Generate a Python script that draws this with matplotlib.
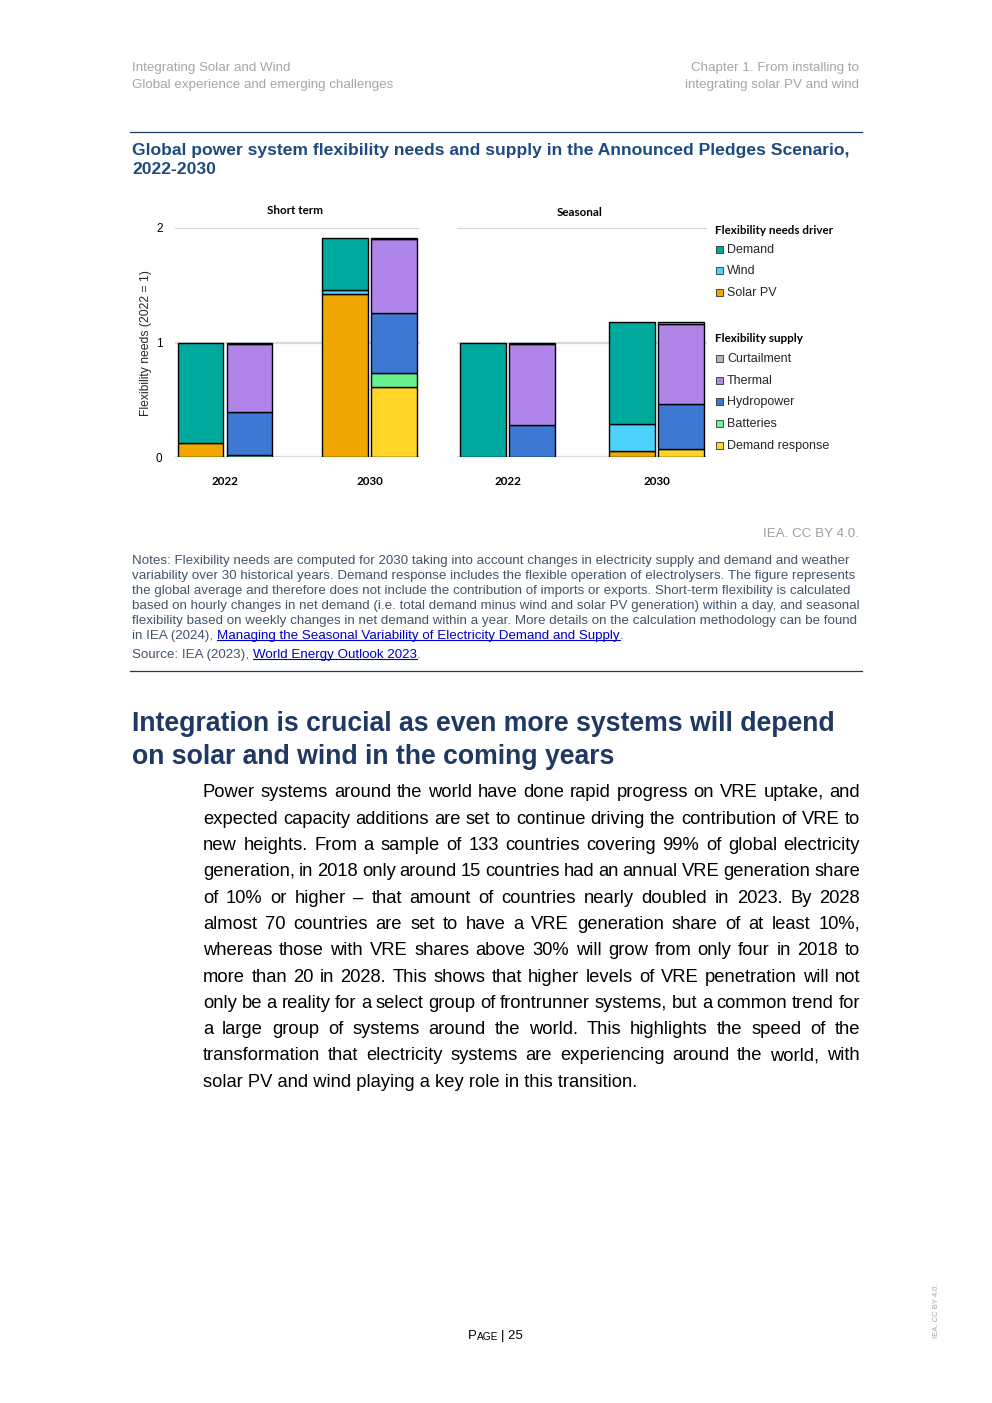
import matplotlib
matplotlib.use('Agg')
import matplotlib.pyplot as plt
from matplotlib.patches import Rectangle
from matplotlib.lines import Line2D

W, H = 992, 1403

# chart data (2022 = 1)
years = ['2022', '2030']
needsLabels = ['Demand', 'Wind', 'Solar PV']
supplyLabels = ['Curtailment', 'Thermal', 'Hydropower', 'Batteries', 'Demand response']

# short term
stSolar = [0.125, 1.42]
stWind = [0.0, 0.035]
stDemand = [0.875, 0.46]
stDemandResp = [0.0, 0.61]
stBatteries = [0.015, 0.12]
stHydro = [0.38, 0.525]
stThermal = [0.595, 0.652]
stCurtail = [0.01, 0.01]

# seasonal
seSolar = [0.0, 0.055]
seWind = [0.0, 0.235]
seDemand = [1.0, 0.885]
seDemandResp = [0.0, 0.07]
seBatteries = [0.0, 0.0]
seHydro = [0.28, 0.395]
seThermal = [0.71, 0.70]
seCurtail = [0.01, 0.01]

colors = {
    'Demand': '#00A99D',
    'Wind': '#4DD2FB',
    'Solar PV': '#F0A800',
    'Curtailment': '#B4B4B4',
    'Thermal': '#B085EA',
    'Hydropower': '#3D78D3',
    'Batteries': '#66F08E',
    'Demand response': '#FFD52A',
}

bodyLines = [
    "Power systems around the world have done rapid progress on VRE uptake, and",
    "expected capacity additions are set to continue driving the contribution of VRE to",
    "new heights. From a sample of 133 countries covering 99% of global electricity",
    "generation, in 2018 only around 15 countries had an annual VRE generation share",
    "of 10% or higher \u2013 that amount of countries nearly doubled in 2023. By 2028",
    "almost 70 countries are set to have a VRE generation share of at least 10%,",
    "whereas those with VRE shares above 30% will grow from only four in 2018 to",
    "more than 20 in 2028. This shows that higher levels of VRE penetration will not",
    "only be a reality for a select group of frontrunner systems, but a common trend for",
    "a large group of systems around the world. This highlights the speed of the",
    "transformation that electricity systems are experiencing around the world, with",
    "solar PV and wind playing a key role in this transition.",
]

noteLines = [
    "Notes: Flexibility needs are computed for 2030 taking into account changes in electricity supply and demand and weather",
    "variability over 30 historical years. Demand response includes the flexible operation of electrolysers. The figure represents",
    "the global average and therefore does not include the contribution of imports or exports. Short-term flexibility is calculated",
    "based on hourly changes in net demand (i.e. total demand minus wind and solar PV generation) within a day, and seasonal",
    "flexibility based on weekly changes in net demand within a year. More details on the calculation methodology can be found",
]

plt.rcParams['font.family'] = ['Liberation Sans', 'DejaVu Sans']

fig = plt.figure(figsize=(W / 100, H / 100), dpi=100)
fig.patch.set_facecolor('white')
rend = fig.canvas.get_renderer()


def fx(x):
    return x / W


def fy(y):
    return 1 - y / H


def txt(x, y, s, dy=2, **kw):
    # dy: small nudge, va='center' sits a bit high because of descenders
    kw.setdefault('va', 'center')
    return fig.text(fx(x), fy(y + dy), s, **kw)


def width(t):
    return t.get_window_extent(rend).width


def underline(t, color):
    bb = t.get_window_extent(rend)
    yy = bb.y0 + 2
    fig.add_artist(Line2D([bb.x0 / W, bb.x1 / W], [yy / H, yy / H], color=color, lw=0.8))


def justify(line, x0, x1, y, **kw):
    words = line.split(' ')
    texts = [txt(0, y, w, **kw) for w in words]
    widths = [width(t) for t in texts]
    gap = (x1 - x0 - sum(widths)) / (len(words) - 1)
    x = x0
    for t, w in zip(texts, widths):
        t.set_x(fx(x))
        x += w + gap


# page header
grey = '#A6A6A6'
txt(132, 66, 'Integrating Solar and Wind', size=9.6, color=grey)
txt(132, 83, 'Global experience and emerging challenges', size=9.6, color=grey)
txt(859, 66, 'Chapter 1. From installing to', size=9.6, color=grey, ha='right')
txt(859, 83, 'integrating solar PV and wind', size=9.6, color=grey, ha='right')

navy = '#1F3864'
fig.add_artist(Line2D([fx(130), fx(862)], [fy(132), fy(132)], color=navy, lw=0.9))
fig.add_artist(Line2D([fx(130), fx(862)], [fy(671), fy(671)], color=navy, lw=0.9))

titleColor = '#1F4A80'
txt(132, 148, 'Global power system flexibility needs and supply in the Announced Pledges Scenario,',
    size=12.6, weight='bold', color=titleColor)
txt(132, 168, '2022-2030', size=12.6, weight='bold', color=titleColor)

# chart panels
calib = ['Lato', 'DejaVu Sans']


def drawPanel(ax, needs, supply, off, bw):
    xs = range(len(years))
    for i in xs:
        bottom = 0
        for lab, vals in needs:
            if vals[i] > 0:
                ax.bar(i - off, vals[i], bw, bottom=bottom, color=colors[lab],
                       edgecolor='black', linewidth=1.0, zorder=3)
            bottom += vals[i]
        bottom = 0
        for lab, vals in supply:
            if vals[i] > 0:
                ax.bar(i + off, vals[i], bw, bottom=bottom, color=colors[lab],
                       edgecolor='black', linewidth=1.0, zorder=3)
            bottom += vals[i]
    ax.set_ylim(0, 2)
    ax.set_yticks([0, 1, 2])
    ax.grid(axis='y', color='#D9D9D9', lw=1.6)
    ax.set_axisbelow(True)
    for s in ax.spines.values():
        s.set_visible(False)
    ax.set_xticks(list(xs))
    ax.set_xticklabels(years, family=calib, weight='bold', size=8.4)
    ax.tick_params(length=0)
    ax.tick_params(axis='x', pad=14)


stNeeds = [('Solar PV', stSolar), ('Wind', stWind), ('Demand', stDemand)]
stSupply = [('Demand response', stDemandResp), ('Batteries', stBatteries),
            ('Hydropower', stHydro), ('Thermal', stThermal), ('Curtailment', stCurtail)]
seNeeds = [('Solar PV', seSolar), ('Wind', seWind), ('Demand', seDemand)]
seSupply = [('Demand response', seDemandResp), ('Batteries', seBatteries),
            ('Hydropower', seHydro), ('Thermal', seThermal), ('Curtailment', seCurtail)]

ax1 = fig.add_axes([fx(175), fy(457), (420 - 175) / W, (457 - 228) / H])
drawPanel(ax1, stNeeds, stSupply, 0.17, 0.315)
ax1.set_xlim(-0.346, 1.349)
ax1.set_yticklabels(['0', '1', '2'], size=8.5)
ax1.tick_params(axis='y', pad=9)

ax2 = fig.add_axes([fx(457), fy(457), (707 - 457) / W, (457 - 228) / H])
drawPanel(ax2, seNeeds, seSupply, 0.165, 0.31)
ax2.set_xlim(-0.339, 1.339)
ax2.set_yticklabels([])

txt(295, 208, 'Short term', family=calib, weight='bold', size=8.4, ha='center')
txt(580, 210, 'Seasonal', family=calib, weight='bold', size=8.4, ha='center')
txt(146, 343, 'Flexibility needs (2022 = 1)', dy=0, size=8.7, rotation=90, ha='center', color='#262626')

# legend
txt(715, 229, 'Flexibility needs driver', family=calib, weight='bold', size=8.4)
txt(715, 337, 'Flexibility supply', family=calib, weight='bold', size=8.4)
legY = [248, 269, 291]
for lab, y in zip(needsLabels, legY):
    fig.add_artist(Rectangle((fx(716), fy(y + 5)), 7 / W, 7 / H, facecolor=colors[lab],
                             edgecolor='#333333', lw=0.6))
    txt(727, y, lab, size=9, color='#262626')
legY = [357, 379, 400, 422, 444]
for lab, y in zip(supplyLabels, legY):
    fig.add_artist(Rectangle((fx(716), fy(y + 5)), 7 / W, 7 / H, facecolor=colors[lab],
                             edgecolor='#333333', lw=0.6))
    txt(727, y, lab, size=9, color='#262626')

txt(859, 532, 'IEA. CC BY 4.0.', size=9.6, color='#A0A0A0', ha='right')

# notes and source
noteSize = 9.6
noteColor = '#44546A'
linkColor = '#0000CC'
m1 = txt(0, 500, 'a a', size=noteSize)
m2 = txt(0, 500, 'aa', size=noteSize)
spaceW = width(m1) - width(m2)
m1.remove()
m2.remove()

y = 559
for line in noteLines:
    txt(132, y, line, size=noteSize, color=noteColor)
    y += 15

t = txt(132, 634, 'in IEA (2024),', size=noteSize, color=noteColor)
x = 132 + width(t) + spaceW
t = txt(x, 634, 'Managing the Seasonal Variability of Electricity Demand and Supply', size=noteSize, color=linkColor)
underline(t, linkColor)
txt(x + width(t), 634, '.', size=noteSize, color=noteColor)

t = txt(132, 653, 'Source: IEA (2023),', size=noteSize, color=noteColor)
x = 132 + width(t) + spaceW
t = txt(x, 653, 'World Energy Outlook 2023', size=noteSize, color=linkColor)
underline(t, linkColor)
txt(x + width(t), 653, '.', size=noteSize, color=noteColor)

# section heading
txt(132, 721, 'Integration is crucial as even more systems will depend', dy=3, size=19.2, weight='bold', color=navy)
txt(132, 754, 'on solar and wind in the coming years', dy=3, size=19.2, weight='bold', color=navy)

# body paragraph, justified
y = 791
for i, line in enumerate(bodyLines):
    if i < len(bodyLines) - 1:
        justify(line, 203, 860, y, size=13.2, color='black')
    else:
        txt(203, y, line, size=13.2, color='black')
    y += 26.3

# footer
t = txt(468, 1334, 'P', size=9.5)
x = 468 + width(t)
t = txt(x, 1335, 'AGE', size=7.3)
x += width(t) + 3
txt(x, 1334, '| 25', size=9.5)
txt(937, 1311, 'IEA. CC BY 4.0.', dy=0, size=5.5, rotation=90, ha='center', color='#A6A6A6')

fig.savefig('out.png', dpi=100)
